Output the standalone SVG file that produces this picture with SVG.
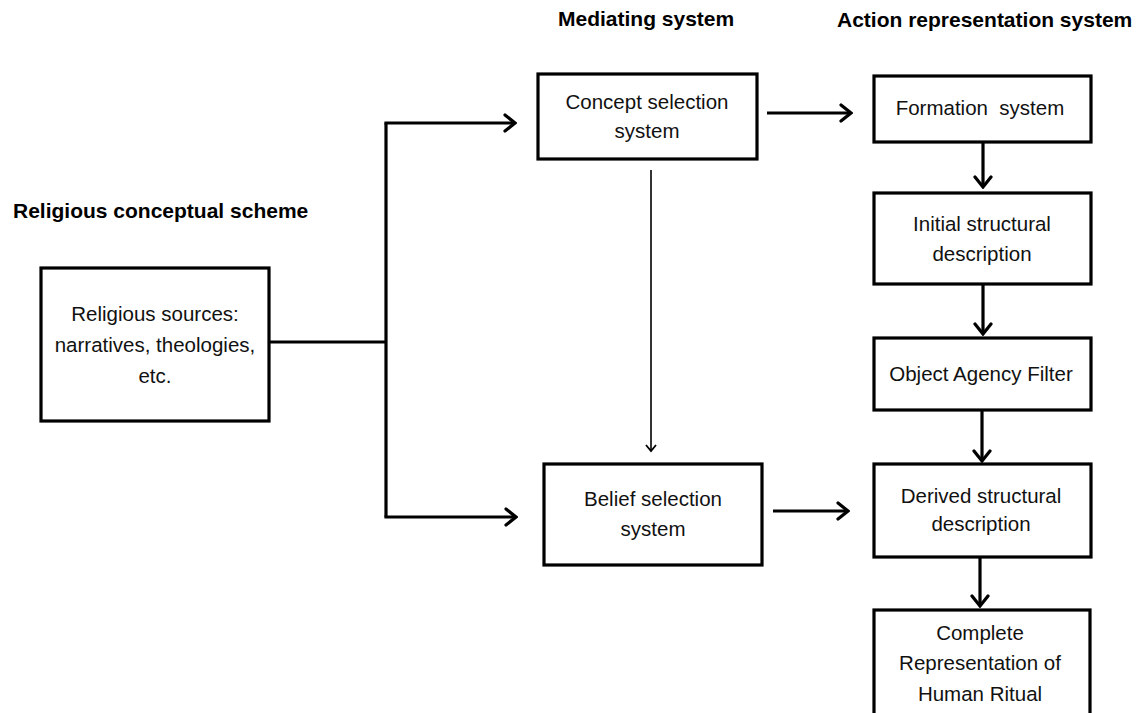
<svg xmlns="http://www.w3.org/2000/svg" width="1143" height="713" viewBox="0 0 1143 713">
  <style>
    .box { fill: #fff; stroke: #000; stroke-width: 3.2; }
    .lbl { font-family: "Liberation Sans", Arial, sans-serif; font-size: 20.5px; fill: #111; text-anchor: middle; }
    .hdr { font-family: "Liberation Sans", Arial, sans-serif; font-size: 21px; font-weight: bold; fill: #000; }
    .wire { fill: none; stroke: #000; stroke-width: 3.2; }
    .thin { fill: none; stroke: #000; stroke-width: 1.6; }
  </style>
  <defs>
    <marker id="head" markerUnits="userSpaceOnUse" viewBox="-14 -10 16 20" refX="0" refY="0" markerWidth="16" markerHeight="20" orient="auto">
      <path d="M-10,-8 L0,0 L-10,8" fill="none" stroke="#000" stroke-width="3.2" stroke-linecap="round" stroke-linejoin="miter"/>
    </marker>
    <marker id="headThin" markerUnits="userSpaceOnUse" viewBox="-10 -8 12 16" refX="0" refY="0" markerWidth="12" markerHeight="16" orient="auto">
      <path d="M-6,-5 L0,0 L-6,5" fill="none" stroke="#000" stroke-width="1.8" stroke-linejoin="miter"/>
    </marker>
  </defs>
  <rect width="1143" height="713" fill="#fff"/>

  <!-- column headings -->
  <text class="hdr" x="13" y="218">Religious conceptual scheme</text>
  <text class="hdr" x="558" y="26">Mediating system</text>
  <text class="hdr" x="837" y="27">Action representation system</text>

  <!-- connectors -->
  <g id="connectors">
    <path class="wire" d="M270,342 H386"/>
    <path class="wire" d="M386,123 V517"/>
    <path class="wire" d="M384.4,123 H515" marker-end="url(#head)"/>
    <path class="wire" d="M384.4,517 H516" marker-end="url(#head)"/>
    <path class="thin" d="M651,170 V451" marker-end="url(#headThin)"/>
    <path class="wire" d="M767,113 H851" marker-end="url(#head)"/>
    <path class="wire" d="M773,511 H848" marker-end="url(#head)"/>
    <path class="wire" d="M983,142 V187" marker-end="url(#head)"/>
    <path class="wire" d="M983,284 V334" marker-end="url(#head)"/>
    <path class="wire" d="M982,410 V461" marker-end="url(#head)"/>
    <path class="wire" d="M980,557 V606" marker-end="url(#head)"/>
  </g>

  <g id="religious-sources">
    <rect class="box" x="41" y="268" width="228" height="153"/>
    <text class="lbl" x="155" y="321">Religious sources:</text>
    <text class="lbl" x="155" y="352">narratives, theologies,</text>
    <text class="lbl" x="155" y="383">etc.</text>
  </g>

  <g id="concept-selection">
    <rect class="box" x="538" y="74" width="219" height="85"/>
    <text class="lbl" x="647" y="109">Concept selection</text>
    <text class="lbl" x="647" y="138">system</text>
  </g>

  <g id="belief-selection">
    <rect class="box" x="544" y="464" width="218" height="101"/>
    <text class="lbl" x="653" y="506">Belief selection</text>
    <text class="lbl" x="653" y="536">system</text>
  </g>

  <g id="formation-system">
    <rect class="box" x="874" y="76" width="217" height="66"/>
    <text class="lbl" x="980" y="115" xml:space="preserve">Formation  system</text>
  </g>

  <g id="initial-description">
    <rect class="box" x="874" y="193" width="217" height="91"/>
    <text class="lbl" x="982" y="231">Initial structural</text>
    <text class="lbl" x="982" y="261">description</text>
  </g>

  <g id="object-agency-filter">
    <rect class="box" x="874" y="338" width="217" height="72"/>
    <text class="lbl" x="981" y="381">Object Agency Filter</text>
  </g>

  <g id="derived-description">
    <rect class="box" x="874" y="464" width="217" height="93"/>
    <text class="lbl" x="981" y="503">Derived structural</text>
    <text class="lbl" x="981" y="531">description</text>
  </g>

  <g id="complete-representation">
    <rect class="box" x="874" y="610" width="216" height="120"/>
    <text class="lbl" x="980" y="640">Complete</text>
    <text class="lbl" x="980" y="670">Representation of</text>
    <text class="lbl" x="980" y="701">Human Ritual</text>
  </g>
</svg>
